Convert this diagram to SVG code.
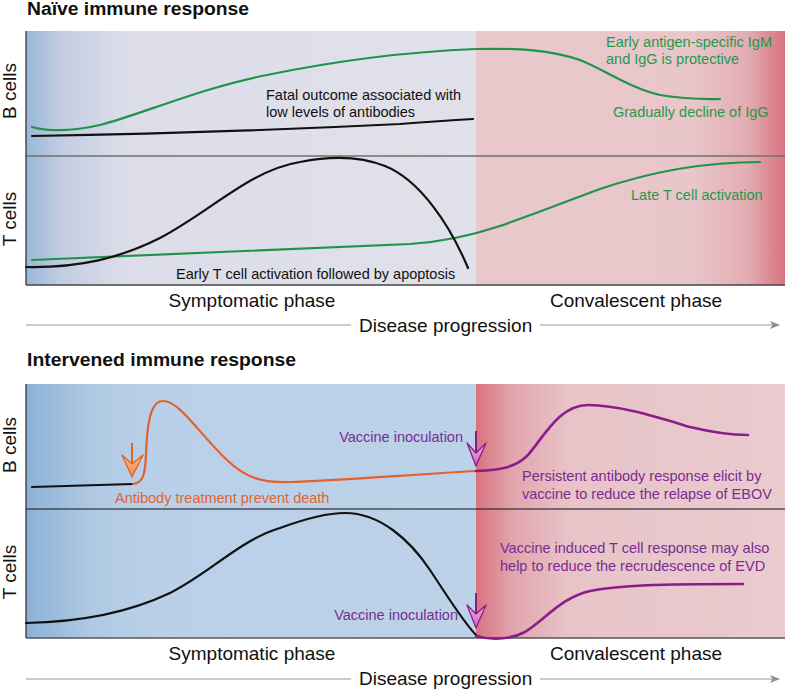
<svg xmlns="http://www.w3.org/2000/svg" width="786" height="690" viewBox="0 0 786 690">
<defs>
<linearGradient id="topLeft" x1="26" y1="0" x2="476" y2="0" gradientUnits="userSpaceOnUse">
<stop offset="0" stop-color="#98b7d9"/><stop offset="0.08" stop-color="#c3cde2"/><stop offset="0.22" stop-color="#dcdde9"/><stop offset="1" stop-color="#e1e1ea"/>
</linearGradient>
<linearGradient id="topRight" x1="476" y1="0" x2="785" y2="0" gradientUnits="userSpaceOnUse">
<stop offset="0" stop-color="#e9c8cc"/><stop offset="0.7" stop-color="#e8c6ca"/><stop offset="0.88" stop-color="#e2acb2"/><stop offset="1" stop-color="#d8737f"/>
</linearGradient>
<linearGradient id="botLeft" x1="26" y1="0" x2="476" y2="0" gradientUnits="userSpaceOnUse">
<stop offset="0" stop-color="#8cb1d6"/><stop offset="0.15" stop-color="#b1cae4"/><stop offset="0.3" stop-color="#bad0e8"/><stop offset="1" stop-color="#bcd2e8"/>
</linearGradient>
<linearGradient id="botRight" x1="476" y1="0" x2="785" y2="0" gradientUnits="userSpaceOnUse">
<stop offset="0" stop-color="#d8737f"/><stop offset="0.12" stop-color="#e1a6ad"/><stop offset="0.3" stop-color="#e8c3c8"/><stop offset="1" stop-color="#eacbcf"/>
</linearGradient>
<linearGradient id="orangeFill" x1="0" y1="0" x2="0" y2="1">
<stop offset="0" stop-color="#fbc08c"/><stop offset="1" stop-color="#f3874b"/>
</linearGradient>
<linearGradient id="purpleFill" x1="0" y1="0" x2="0" y2="1">
<stop offset="0" stop-color="#f0b4e6"/><stop offset="1" stop-color="#c861bf"/>
</linearGradient>
<marker id="axisHead" viewBox="0 0 10 8" refX="9" refY="4" markerWidth="10" markerHeight="8" markerUnits="userSpaceOnUse" orient="auto">
<path d="M0,0 L10,4 L0,8 L2.5,4 Z" fill="#8f8f8f"/>
</marker>
</defs>
<style>
text { font-family: "Liberation Sans", Arial, sans-serif; }
.title { font-size: 18px; font-weight: bold; fill: #111; }
.axisLbl { font-size: 19px; fill: #111; }
.phase { font-size: 19px; fill: #111; text-anchor: middle; }
.note { font-size: 14.5px; }
.blk { fill: #111; }
.grn { fill: #25994a; }
.org { fill: #e06530; }
.pur { fill: #7a2c92; }
.curve { fill: none; stroke-width: 2.2; stroke-linecap: round; }
.cBlack { stroke: #111; }
.cGreen { stroke: #1f9448; }
.cOrange { stroke: #e3612a; }
.cPurple { stroke: #8a1c8c; stroke-width: 2.6; }
.axis { stroke: #9a9a9a; stroke-width: 1.2; fill: none; }
</style>

<!-- Top section -->
<g id="top-section">
<text class="title" x="27" y="15" textLength="222" lengthAdjust="spacingAndGlyphs">Naïve immune response</text>
<rect x="26" y="31" width="450" height="254" fill="url(#topLeft)"/>
<rect x="476" y="31" width="309" height="254" fill="url(#topRight)"/>
<line x1="26" y1="156" x2="785" y2="156" stroke="#6f6f6f" stroke-width="1.5"/>
<line x1="26" y1="31" x2="26" y2="285" stroke="#333" stroke-width="1.3"/>
<line x1="26" y1="285" x2="785" y2="285" stroke="#444" stroke-width="1.5"/>
<text class="axisLbl" transform="translate(16,91) rotate(-90)" text-anchor="middle">B cells</text>
<text class="axisLbl" transform="translate(16,219) rotate(-90)" text-anchor="middle">T cells</text>
<text class="phase" x="252" y="307">Symptomatic phase</text>
<text class="phase" x="636" y="307">Convalescent phase</text>
<text class="axisLbl" x="359" y="332">Disease progression</text>
</g>

<!-- Bottom section -->
<g id="bottom-section">
<text class="title" x="27" y="366" textLength="269" lengthAdjust="spacingAndGlyphs">Intervened immune response</text>
<rect x="26" y="384" width="450" height="254" fill="url(#botLeft)"/>
<rect x="476" y="384" width="309" height="254" fill="url(#botRight)"/>
<line x1="26" y1="509" x2="785" y2="509" stroke="#111" stroke-width="1.2"/>
<line x1="26" y1="384" x2="26" y2="638" stroke="#333" stroke-width="1.3"/>
<line x1="26" y1="638" x2="785" y2="638" stroke="#555" stroke-width="1.5"/>
<text class="axisLbl" transform="translate(16,445) rotate(-90)" text-anchor="middle">B cells</text>
<text class="axisLbl" transform="translate(16,572) rotate(-90)" text-anchor="middle">T cells</text>
<text class="phase" x="252" y="660">Symptomatic phase</text>
<text class="phase" x="636" y="660">Convalescent phase</text>
<text class="axisLbl" x="359" y="685">Disease progression</text>
</g>

<!-- Connectors: curves, arrows, axis lines -->
<g id="connectors">
<line class="axis" x1="26" y1="325" x2="351" y2="325"/>
<line class="axis" x1="540" y1="325" x2="779" y2="325" marker-end="url(#axisHead)"/>
<line class="axis" x1="26" y1="679" x2="351" y2="679"/>
<line class="axis" x1="540" y1="679" x2="779" y2="679" marker-end="url(#axisHead)"/>

<path class="curve cGreen" d="M32,127 C45,131 70,132 100,125 C140,115 200,88 267,75 C330,62 400,52 476,49 C520,48 550,50 580,60 C605,70 630,88 660,95 C690,100 710,99 720,99"/>
<path class="curve cBlack" d="M32,136 C150,134 300,129 400,124 Q440,121 473,119"/>
<path class="curve cGreen" d="M32,260 L410,244 C440,242 470,236 500,226 C540,212 570,200 600,189 C650,172 700,162 760,162"/>
<path class="curve cBlack" d="M26,267 C80,268 120,258 160,238 C210,212 250,170 300,162 C330,156 360,156 385,166 C420,180 450,225 468,268"/>

<path class="curve cBlack" d="M32,487 L133,484"/>
<path class="curve cOrange" d="M133,484 C143,483 145,475 146,455 C147,425 150,401 163,401 C180,401 200,435 227,460 C245,477 260,483 290,482 C330,481 420,474 476,471"/>
<path class="curve cPurple" d="M476,471 C500,470 515,468 528,455 C545,435 560,405 588,405 C620,405 660,418 690,427 C715,433 735,435 748,435"/>
<path class="curve cBlack" d="M26,623 C80,622 130,612 170,593 C210,573 240,540 280,528 C310,517 330,513 345,513 C380,513 410,540 430,570 C448,597 465,625 478,637"/>
<path class="curve cPurple" d="M476,636 C490,640 510,640 525,632 C545,620 560,598 590,591 C620,585 660,584 743,584"/>

<g id="arrow-antibody">
<line x1="132" y1="443" x2="132" y2="466" stroke="#e3612a" stroke-width="2"/>
<polygon points="132,477 122,455 132,464 143,455" fill="url(#orangeFill)" stroke="#e3612a" stroke-width="1.3" stroke-linejoin="round"/>
</g>
<g id="arrow-vaccine-b">
<line x1="476" y1="431" x2="476" y2="455" stroke="#8a1c8c" stroke-width="2"/>
<polygon points="476,466 467,443 476,453 486,443" fill="url(#purpleFill)" stroke="#8a1c8c" stroke-width="1.3" stroke-linejoin="round"/>
</g>
<g id="arrow-vaccine-t">
<line x1="476" y1="593" x2="476" y2="616" stroke="#8a1c8c" stroke-width="2"/>
<polygon points="476,628 467,605 476,614 486,605" fill="url(#purpleFill)" stroke="#8a1c8c" stroke-width="1.3" stroke-linejoin="round"/>
</g>
</g>

<!-- Annotations -->
<g id="labels">
<text class="note blk" x="266" y="100">Fatal outcome associated with</text>
<text class="note blk" x="266" y="117">low levels of antibodies</text>
<text class="note grn" x="606" y="47">Early antigen-specific IgM</text>
<text class="note grn" x="606" y="64">and IgG is protective</text>
<text class="note grn" x="613" y="117">Gradually decline of IgG</text>
<text class="note blk" x="176" y="279">Early T cell activation followed by apoptosis</text>
<text class="note grn" x="631" y="200">Late T cell activation</text>

<text class="note org" x="115" y="503">Antibody treatment prevent death</text>
<text class="note pur" x="463" y="442" text-anchor="end">Vaccine inoculation</text>
<text class="note pur" x="522" y="481">Persistent antibody response elicit by</text>
<text class="note pur" x="522" y="499">vaccine to reduce the relapse of EBOV</text>
<text class="note pur" x="500" y="553">Vaccine induced T cell response may also</text>
<text class="note pur" x="500" y="571">help to reduce the recrudescence of EVD</text>
<text class="note pur" x="458" y="620" text-anchor="end">Vaccine inoculation</text>
</g>
</svg>
